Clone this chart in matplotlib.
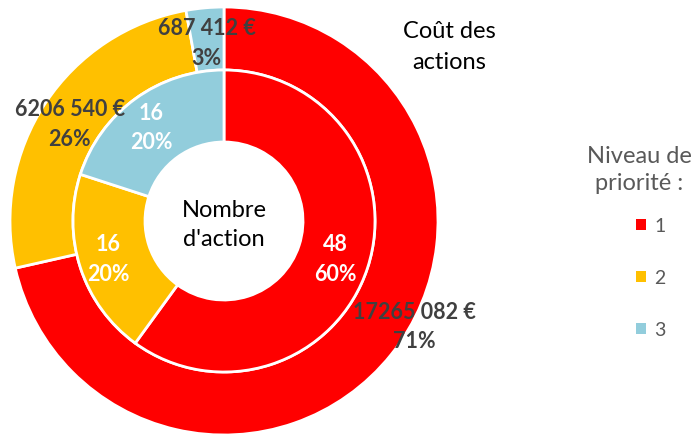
import matplotlib
matplotlib.use("Agg")
from matplotlib import pyplot as plt
from matplotlib.patches import Patch


# -----------------------------
# Data
# -----------------------------
priorities = ["1", "2", "3"]
action_counts = [48, 16, 16]
action_costs = [17265082, 6206540, 687412]
colors = ["#FF0000", "#FFC000", "#92CDDC"]

# label anchors (pie units, radius = 1)
cost_label_pos = [(0.89, -0.49), (-0.72, 0.455), (-0.08, 0.835)]
count_label_pos = [(0.52, -0.175), (-0.54, -0.175), (-0.34, 0.44)]

plt.rcParams["font.family"] = ["Lato", "DejaVu Sans"]


def euros(v):
    # same grouping as the source sheet: only the last thousands are split
    return f"{v // 1000}\u00a0{v % 1000:03d} €"


def percents(values):
    total = sum(values)
    return [round(v / total * 100) for v in values]


# -----------------------------
# Draw the two rings
# -----------------------------
def drawRings(ax):
    outer_r = 1.0
    mid_r = 151 / 214
    hole_r = 79 / 214

    ax.pie(action_costs, radius=outer_r, colors=colors, startangle=90,
           counterclock=False,
           wedgeprops=dict(width=outer_r - mid_r, edgecolor="white", linewidth=2))
    ax.pie(action_counts, radius=mid_r, colors=colors, startangle=90,
           counterclock=False,
           wedgeprops=dict(width=mid_r - hole_r, edgecolor="white", linewidth=2))

    for (x, y), v, p in zip(cost_label_pos, action_costs, percents(action_costs)):
        ax.text(x, y, f"{euros(v)}\n{p}%", ha="center", va="center",
                fontsize=15.5, fontweight="bold", color="#404040", linespacing=1.5)

    for (x, y), v, p in zip(count_label_pos, action_counts, percents(action_counts)):
        ax.text(x, y, f"{v}\n{p}%", ha="center", va="center",
                fontsize=15.5, fontweight="bold", color="white", linespacing=1.5)

    ax.text(0, -0.015, "Nombre\nd'action", ha="center", va="center",
            fontsize=17, color="black", linespacing=1.5)

    ax.set_xlim(-1, 1)
    ax.set_ylim(-1, 1)
    ax.set_aspect("equal")
    ax.axis("off")


# -----------------------------
# Legend and titles
# -----------------------------
def drawLegend(fig):
    fig.text(449 / 697, 1 - 47 / 435, "Coût des\nactions", ha="center",
             va="center", fontsize=17, color="black", linespacing=1.55)

    fig.text(639 / 697, 1 - 170 / 435, "Niveau de\npriorité :", ha="center",
             va="center", fontsize=17, color="#595959", linespacing=1.35)

    handles = [Patch(facecolor=c) for c in colors]
    fig.legend(handles, priorities, loc="upper left",
               bbox_to_anchor=(636 / 697, 1 - 218 / 435), frameon=False,
               fontsize=14, labelcolor="#595959", handlelength=0.5,
               handleheight=0.5, handletextpad=0.45, labelspacing=1.8,
               borderpad=0, borderaxespad=0)


def main():
    fig = plt.figure(figsize=(6.97, 4.35), dpi=100)
    ax = fig.add_axes([10 / 697, 1 - 436 / 435, 428 / 697, 428 / 435])
    drawRings(ax)
    drawLegend(fig)
    fig.savefig("out.png", dpi=100, facecolor="white")


if __name__ == "__main__":
    main()
